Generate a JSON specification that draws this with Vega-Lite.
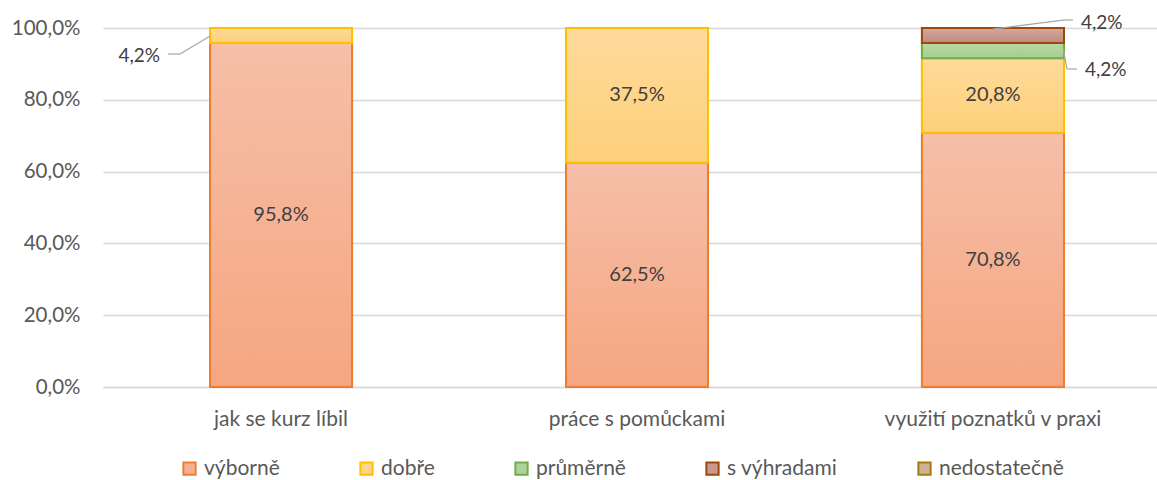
{
  "$schema": "https://vega.github.io/schema/vega-lite/v6.json",
  "width": 1054,
  "height": 359,
  "autosize": {"type": "none"},
  "padding": {"left": 103, "top": 28, "right": 0, "bottom": 93},
  "data": {
    "values": [
      {"cat": "jak se kurz líbil", "series": "výborně", "value": 0.958},
      {"cat": "jak se kurz líbil", "series": "dobře", "value": 0.042},
      {"cat": "práce s pomůckami", "series": "výborně", "value": 0.625},
      {"cat": "práce s pomůckami", "series": "dobře", "value": 0.375},
      {"cat": "využití poznatků v praxi", "series": "výborně", "value": 0.708},
      {"cat": "využití poznatků v praxi", "series": "dobře", "value": 0.208},
      {"cat": "využití poznatků v praxi", "series": "průměrně", "value": 0.042},
      {"cat": "využití poznatků v praxi", "series": "s výhradami", "value": 0.042}
    ]
  },
  "transform": [
    {"calculate": "indexof(['výborně','dobře','průměrně','s výhradami','nedostatečně'], datum.series)", "as": "ord"},
    {"stack": "value", "groupby": ["cat"], "sort": [{"field": "ord", "order": "ascending"}], "as": ["lo", "hi"]},
    {"calculate": "(datum.lo + datum.hi) / 2", "as": "mid"}
  ],
  "encoding": {
    "x": {
      "field": "cat",
      "type": "nominal",
      "sort": ["jak se kurz líbil", "práce s pomůckami", "využití poznatků v praxi"],
      "scale": {"paddingInner": 0.601, "paddingOuter": 0.281, "align": 0.535},
      "axis": {
        "title": null,
        "labelAngle": 0,
        "labelFontSize": 21,
        "labelLimit": 400,
        "labelColor": "#595959",
        "domainColor": "#D9D9D9",
        "domainWidth": 1.5,
        "ticks": false,
        "labelPadding": 21
      }
    }
  },
  "layer": [
    {
      "mark": {"type": "bar", "strokeWidth": 2},
      "encoding": {
        "y": {
          "field": "hi",
          "type": "quantitative",
          "scale": {"domain": [0, 1]},
          "axis": {
            "title": null,
            "format": ".1%",
            "values": [0, 0.2, 0.4, 0.6, 0.8, 1],
            "domain": false,
            "ticks": false,
            "labelFontSize": 20.5,
            "labelColor": "#595959",
            "labelPadding": 23,
            "gridColor": "#D9D9D9",
            "gridWidth": 1.5
          }
        },
        "y2": {"field": "lo"},
        "color": {
          "field": "series",
          "type": "nominal",
          "scale": {
            "domain": ["výborně", "dobře", "průměrně", "s výhradami", "nedostatečně"],
            "range": ["#F5B293", "#FED58A", "#ADD498", "#CA998E", "#CBB48F"]
          },
          "legend": {
            "title": null,
            "orient": "none",
            "direction": "horizontal",
            "columns": 5,
            "legendX": 76,
            "legendY": 430,
            "symbolType": "square",
            "symbolSize": 150,
            "symbolStrokeWidth": 2,
            "labelFontSize": 21,
            "labelColor": "#595959",
            "labelOffset": 4,
            "columnPadding": 76,
            "gridAlign": "each"
          }
        },
        "stroke": {
          "field": "series",
          "type": "nominal",
          "scale": {
            "domain": ["výborně", "dobře", "průměrně", "s výhradami", "nedostatečně"],
            "range": ["#ED7D31", "#FFC000", "#70AD47", "#9E480E", "#A17D0F"]
          },
          "legend": {
            "title": null,
            "orient": "none",
            "direction": "horizontal",
            "columns": 5,
            "legendX": 76,
            "legendY": 430,
            "symbolType": "square",
            "symbolSize": 150,
            "symbolStrokeWidth": 2,
            "labelFontSize": 21,
            "labelColor": "#595959",
            "labelOffset": 4,
            "columnPadding": 76,
            "gridAlign": "each"
          }
        }
      }
    },
    {
      "transform": [{"filter": "datum.series == 'výborně'"}],
      "mark": {"type": "bar", "strokeWidth": 2, "stroke": "#ED7D31", "fill": {"gradient": "linear", "x1": 0, "y1": 0, "x2": 0, "y2": 1, "stops": [{"offset": 0, "color": "#F6BFA8"}, {"offset": 1, "color": "#F5A681"}]}},
      "encoding": {"y": {"field": "hi", "type": "quantitative"}, "y2": {"field": "lo"}}
    },
    {
      "transform": [{"filter": "datum.series == 'dobře'"}],
      "mark": {"type": "bar", "strokeWidth": 2, "stroke": "#FFC000", "fill": {"gradient": "linear", "x1": 0, "y1": 0, "x2": 0, "y2": 1, "stops": [{"offset": 0, "color": "#FFDA9A"}, {"offset": 1, "color": "#FDD07A"}]}},
      "encoding": {"y": {"field": "hi", "type": "quantitative"}, "y2": {"field": "lo"}}
    },
    {
      "transform": [{"filter": "datum.series == 'průměrně'"}],
      "mark": {"type": "bar", "strokeWidth": 2, "stroke": "#70AD47", "fill": {"gradient": "linear", "x1": 0, "y1": 0, "x2": 0, "y2": 1, "stops": [{"offset": 0, "color": "#B6DAA3"}, {"offset": 1, "color": "#A5CE8E"}]}},
      "encoding": {"y": {"field": "hi", "type": "quantitative"}, "y2": {"field": "lo"}}
    },
    {
      "transform": [{"filter": "datum.series == 's výhradami'"}],
      "mark": {"type": "bar", "strokeWidth": 2, "stroke": "#9E480E", "fill": {"gradient": "linear", "x1": 0, "y1": 0, "x2": 0, "y2": 1, "stops": [{"offset": 0, "color": "#D4A8A0"}, {"offset": 1, "color": "#C08A7C"}]}},
      "encoding": {"y": {"field": "hi", "type": "quantitative"}, "y2": {"field": "lo"}}
    },
    {
      "transform": [{"filter": "datum.value > 0.1"}],
      "mark": {"type": "text", "fontSize": 20, "color": "#404040", "baseline": "middle"},
      "encoding": {
        "y": {"field": "mid", "type": "quantitative"},
        "text": {"field": "value", "type": "quantitative", "format": ".1%"}
      }
    },
    {
      "transform": [{"filter": "datum.cat == 'jak se kurz líbil' && datum.series == 'dobře'"}],
      "mark": {"type": "text", "fontSize": 19, "color": "#404040", "align": "right", "baseline": "middle", "dx": -121, "dy": 20},
      "encoding": {
        "y": {"field": "mid", "type": "quantitative"},
        "text": {"field": "value", "type": "quantitative", "format": ".1%"}
      }
    },
    {
      "transform": [{"filter": "datum.cat == 'využití poznatků v praxi' && datum.series == 's výhradami'"}],
      "mark": {"type": "text", "fontSize": 19, "color": "#404040", "align": "left", "baseline": "middle", "dx": 88, "dy": -13},
      "encoding": {
        "y": {"field": "mid", "type": "quantitative"},
        "text": {"field": "value", "type": "quantitative", "format": ".1%"}
      }
    },
    {
      "transform": [{"filter": "datum.cat == 'využití poznatků v praxi' && datum.series == 'průměrně'"}],
      "mark": {"type": "text", "fontSize": 19, "color": "#404040", "align": "left", "baseline": "middle", "dx": 92, "dy": 19},
      "encoding": {
        "y": {"field": "mid", "type": "quantitative"},
        "text": {"field": "value", "type": "quantitative", "format": ".1%"}
      }
    },
    {
      "transform": [{"filter": "datum.cat == 'jak se kurz líbil' && datum.series == 'dobře'"}],
      "mark": {"type": "rule", "color": "#A6A6A6", "strokeWidth": 1.2, "xOffset": -113, "x2Offset": -101, "yOffset": 18.5, "y2Offset": 18.5},
      "encoding": {"y": {"field": "mid", "type": "quantitative"}, "y2": {"field": "mid"}, "x2": {"field": "cat"}}
    },
    {
      "transform": [{"filter": "datum.cat == 'jak se kurz líbil' && datum.series == 'dobře'"}],
      "mark": {"type": "rule", "color": "#A6A6A6", "strokeWidth": 1.2, "xOffset": -101, "x2Offset": -71, "yOffset": 18.5, "y2Offset": 0.5},
      "encoding": {"y": {"field": "mid", "type": "quantitative"}, "y2": {"field": "mid"}, "x2": {"field": "cat"}}
    },
    {
      "transform": [{"filter": "datum.cat == 'využití poznatků v praxi' && datum.series == 's výhradami'"}],
      "mark": {"type": "rule", "color": "#A6A6A6", "strokeWidth": 1.2, "xOffset": 0, "x2Offset": 70, "yOffset": -6.5, "y2Offset": -15.5},
      "encoding": {"y": {"field": "mid", "type": "quantitative"}, "y2": {"field": "mid"}, "x2": {"field": "cat"}}
    },
    {
      "transform": [{"filter": "datum.cat == 'využití poznatků v praxi' && datum.series == 's výhradami'"}],
      "mark": {"type": "rule", "color": "#A6A6A6", "strokeWidth": 1.2, "xOffset": 70, "x2Offset": 80, "yOffset": -15.5, "y2Offset": -15.5},
      "encoding": {"y": {"field": "mid", "type": "quantitative"}, "y2": {"field": "mid"}, "x2": {"field": "cat"}}
    },
    {
      "transform": [{"filter": "datum.cat == 'využití poznatků v praxi' && datum.series == 'průměrně'"}],
      "mark": {"type": "rule", "color": "#A6A6A6", "strokeWidth": 1.2, "xOffset": 70, "x2Offset": 74, "yOffset": -3.6, "y2Offset": 18.4},
      "encoding": {"y": {"field": "mid", "type": "quantitative"}, "y2": {"field": "mid"}, "x2": {"field": "cat"}}
    },
    {
      "transform": [{"filter": "datum.cat == 'využití poznatků v praxi' && datum.series == 'průměrně'"}],
      "mark": {"type": "rule", "color": "#A6A6A6", "strokeWidth": 1.2, "xOffset": 74, "x2Offset": 84, "yOffset": 18.4, "y2Offset": 18.4},
      "encoding": {"y": {"field": "mid", "type": "quantitative"}, "y2": {"field": "mid"}, "x2": {"field": "cat"}}
    }
  ],
  "config": {
    "locale": {"number": {"decimal": ",", "thousands": " ", "grouping": [3], "currency": ["", " Kč"]}},
    "font": "Lato",
    "view": {"stroke": null}
  }
}
